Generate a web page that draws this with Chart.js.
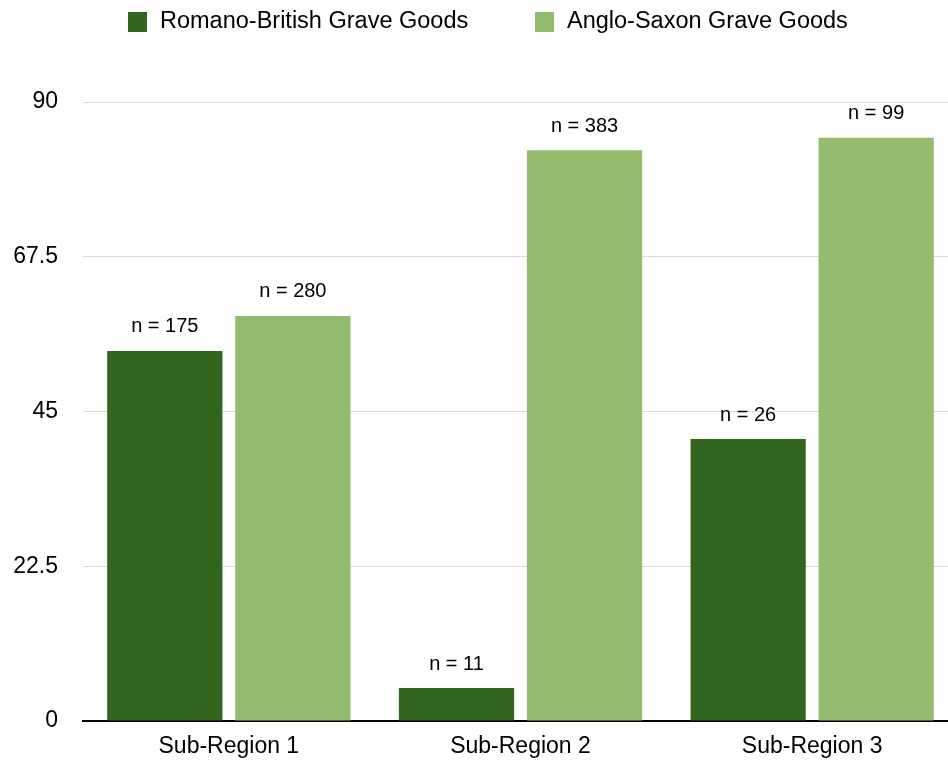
<!DOCTYPE html>
<html>
<head>
<meta charset="utf-8">
<script src="https://cdn.jsdelivr.net/npm/chart.js@4/dist/chart.umd.min.js"></script>
<style>
html,body{margin:0;padding:0;background:#fff;overflow:hidden;width:948px;height:761px;}
canvas{display:block;}
</style>
</head>
<body>
<canvas id="c" width="960" height="761"></canvas>
<script>
const categories = ["Sub-Region 1", "Sub-Region 2", "Sub-Region 3"];
const seriesNames = ["Romano-British Grave Goods", "Anglo-Saxon Grave Goods"];
const romanoBritish = [53.8, 4.8, 41.0];
const angloSaxon = [58.9, 83.0, 84.8];
const romanoBritishN = ["n = 175", "n = 11", "n = 26"];
const angloSaxonN = ["n = 280", "n = 383", "n = 99"];
const yTicks = [0, 22.5, 45, 67.5, 90];

const DARK = "#31661f";
const LIGHT = "#93bc6f";
const FONT = "'Liberation Sans', Arial, Helvetica, sans-serif";

const nLabels = [romanoBritishN, angloSaxonN];

const dataLabelPlugin = {
  id: "dataLabels",
  afterDatasetsDraw(chart) {
    const ctx = chart.ctx;
    ctx.save();
    ctx.font = "20px " + FONT;
    ctx.fillStyle = "#000";
    ctx.textAlign = "center";
    ctx.textBaseline = "middle";
    chart.data.datasets.forEach((ds, di) => {
      const meta = chart.getDatasetMeta(di);
      meta.data.forEach((bar, i) => {
        ctx.fillText(nLabels[di][i], bar.x, bar.y - 24);
      });
    });
    ctx.restore();
  }
};

const legendPlugin = {
  id: "customLegend",
  afterDraw(chart) {
    const ctx = chart.ctx;
    ctx.save();
    ctx.font = "23.5px " + FONT;
    ctx.textAlign = "left";
    ctx.textBaseline = "middle";
    const starts = [128, 535];
    chart.data.datasets.forEach((ds, di) => {
      const x = starts[di];
      ctx.fillStyle = ds.backgroundColor;
      ctx.fillRect(x, 12, 19, 20);
      ctx.fillStyle = "#000";
      ctx.fillText(ds.label, x + 32, 22);
    });
    ctx.restore();
  }
};

new Chart(document.getElementById("c"), {
  type: "bar",
  data: {
    labels: categories,
    datasets: [
      { label: seriesNames[0], data: romanoBritish, backgroundColor: DARK, borderWidth: 0,
        categoryPercentage: 0.878, barPercentage: 0.9 },
      { label: seriesNames[1], data: angloSaxon, backgroundColor: LIGHT, borderWidth: 0,
        categoryPercentage: 0.878, barPercentage: 0.9 }
    ]
  },
  options: {
    responsive: false,
    animation: false,
    devicePixelRatio: 1,
    layout: { padding: { top: 102, right: 2, bottom: 0, left: 0 } },
    plugins: {
      legend: { display: false },
      tooltip: { enabled: false }
    },
    scales: {
      x: {
        afterFit(scale) { scale.height = 40; },
        grid: { display: false, drawTicks: false },
        border: { display: true, color: "#000", width: 2 },
        ticks: { color: "#000", font: { family: FONT, size: 23 }, padding: 12 }
      },
      y: {
        min: 0,
        max: 90,
        afterBuildTicks(scale) { scale.ticks = yTicks.map(v => ({ value: v })); },
        afterFit(scale) { scale.width = 83; },
        grid: {
          drawTicks: false,
          color: ctx => (ctx.tick && ctx.tick.value === 0) ? "rgba(0,0,0,0)" : "#d9d9d9",
          lineWidth: 1
        },
        border: { display: false },
        ticks: {
          color: "#000",
          font: { family: FONT, size: 23 },
          padding: 25,
          callback: v => String(v)
        }
      }
    }
  },
  plugins: [dataLabelPlugin, legendPlugin]
});
</script>
</body>
</html>
